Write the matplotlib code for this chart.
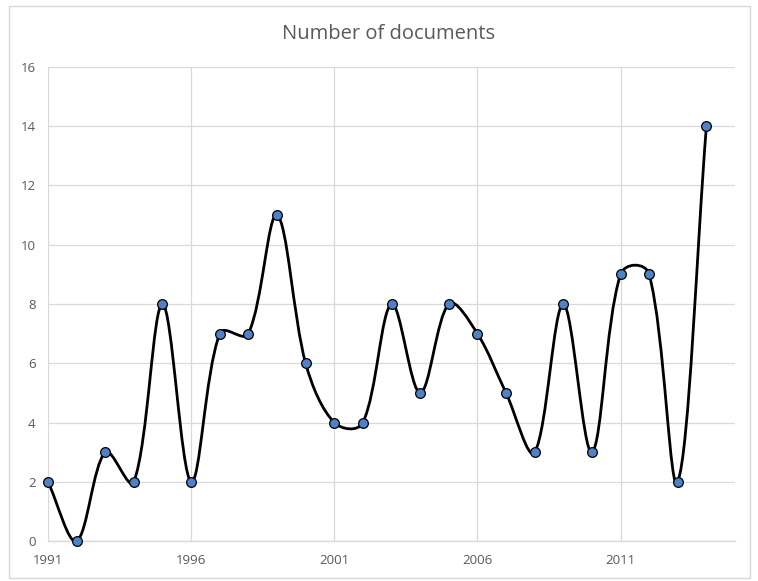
import numpy as np
import matplotlib.pyplot as plt
from matplotlib.path import Path
from matplotlib.patches import PathPatch, Rectangle

# data
years = [1991, 1992, 1993, 1994, 1995, 1996, 1997, 1998, 1999, 2000, 2001, 2002,
         2003, 2004, 2005, 2006, 2007, 2008, 2009, 2010, 2011, 2012, 2013, 2014]
docs = [2, 0, 3, 2, 8, 2, 7, 7, 11, 6, 4, 4, 8, 5, 8, 7, 5, 3, 8, 3, 9, 9, 2, 14]
xticks = [1991, 1996, 2001, 2006, 2011]
yticks = [0, 2, 4, 6, 8, 10, 12, 14, 16]

plt.rcParams['font.family'] = ['Open Sans', 'DejaVu Sans']
grey = '#595959'
grid = '#d9d9d9'

fig = plt.figure(figsize=(7.58, 5.81), dpi=100)
ax = fig.add_axes([0.0633, 0.0688, 0.9064, 0.8159])
ax.set_xlim(1991, 2015)
ax.set_ylim(0, 16)

# Excel-style smooth line: Bezier segments, tangents weighted by chord length on screen
fig.canvas.draw()
pts = ax.transData.transform(np.column_stack([years, docs]))
n = len(pts)
L = np.hypot(*np.diff(pts, axis=0).T) ** 0.75
ctrl_out, ctrl_in = [], []
for i in range(n):
    d = pts[min(i + 1, n - 1)] - pts[max(i - 1, 0)]
    lp = L[i - 1] if i > 0 else 0.0
    ln = L[i] if i < n - 1 else 0.0
    tot = lp + ln
    ctrl_out.append(pts[i] + d / 3 * (ln / tot))
    ctrl_in.append(pts[i] - d / 3 * (lp / tot))
verts = [pts[0]]
codes = [Path.MOVETO]
for i in range(n - 1):
    verts += [ctrl_out[i], ctrl_in[i + 1], pts[i + 1]]
    codes += [Path.CURVE4] * 3
verts = ax.transData.inverted().transform(np.array(verts))
ax.add_patch(PathPatch(Path(verts, codes), fill=False, edgecolor='black',
                       lw=2.0, zorder=3, capstyle='round', joinstyle='round'))
ax.plot(years, docs, 'o', ms=7, mfc='#4f81c7', mec='black', mew=0.9,
        zorder=4, clip_on=False)

ax.set_xticks(xticks)
ax.set_yticks(yticks)
ax.grid(True, color=grid, lw=0.9)
ax.set_axisbelow(True)
for s in ['top', 'right', 'left']:
    ax.spines[s].set_visible(False)
ax.spines['bottom'].set_color(grid)
ax.spines['bottom'].set_linewidth(1.0)
ax.tick_params(length=0, colors=grey, labelsize=9.5)
ax.tick_params(axis='x', pad=9)
ax.tick_params(axis='y', pad=9)

fig.text(0.513, 0.941, 'Number of documents', ha='center', va='center',
         fontsize=14.5, color=grey)
fig.patches.append(Rectangle((0.012, 0.006), 0.978, 0.984, transform=fig.transFigure,
                             fill=False, edgecolor=grid, lw=1.0))

fig.savefig('out.png', dpi=100)
